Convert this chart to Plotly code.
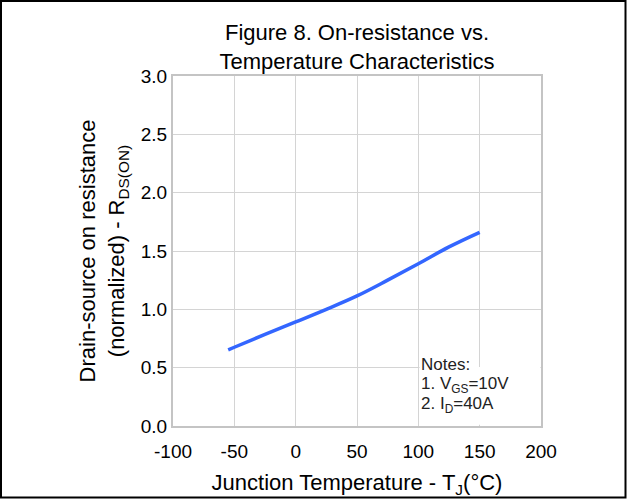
import plotly.graph_objects as go

# Data
temperature_c = [-55, -50, -25, 0, 25, 50, 75, 100, 125, 150]
rds_on_norm = [0.653, 0.675, 0.785, 0.892, 1.0, 1.115, 1.25, 1.39, 1.535, 1.66]

x_ticks = [-100, -50, 0, 50, 100, 150, 200]
y_ticks = [0.0, 0.5, 1.0, 1.5, 2.0, 2.5, 3.0]

title_text = "Figure 8. On-resistance vs.<br>Temperature Characteristics"
x_title = "Junction Temperature - T<sub>J</sub>(°C)"
y_title = "Drain-source on resistance<br>(normalized) - R<sub>DS(ON)</sub>"
notes_lines = ["Notes:", "1. V<sub>GS</sub>=10V", "2. I<sub>D</sub>=40A"]
notes_y = [0.523, 0.351, 0.18]

FONT = "Arial, 'Liberation Sans', sans-serif"
W, H = 627, 500
L, R, T, B = 173, 86, 76, 74
pw, ph = W - L - R, H - T - B

fig = go.Figure()
fig.add_trace(go.Scatter(
    x=temperature_c, y=rds_on_norm, mode="lines",
    line=dict(color="#3366ff", width=3.5, shape="spline", smoothing=1.0),
    hoverinfo="skip", showlegend=False,
))

# white box behind notes (above grid, below trace)
fig.add_shape(type="rect", xref="x", yref="y", x0=101, x1=199.5, y0=0.01, y1=0.505,
              fillcolor="white", line=dict(width=0), layer="between")

for txt, yy in zip(notes_lines, notes_y):
    fig.add_annotation(
        x=100.5, y=yy, xref="x", yref="y", xanchor="left", yanchor="middle",
        text=txt, showarrow=False, align="left",
        font=dict(family=FONT, size=17, color="#222222"),
    )

# outer black frame
fig.add_shape(type="rect", xref="paper", yref="paper",
              x0=(1 - L) / pw, x1=(W - 1.5 - L) / pw,
              y0=-(B - 2.5) / ph, y1=1 + (T - 1) / ph,
              line=dict(color="black", width=2), fillcolor="rgba(0,0,0,0)")

fig.update_layout(
    width=W, height=H,
    margin=dict(l=L, r=R, t=T, b=B, autoexpand=False),
    paper_bgcolor="white", plot_bgcolor="white",
    font=dict(family=FONT, color="black"),
    title=dict(text=title_text, x=(357 - L) / pw, xref="paper", xanchor="center",
               yref="container", y=1 - 40 / H, yanchor="middle", automargin=False,
               font=dict(family=FONT, size=22, color="black")),
    xaxis=dict(range=[-100, 200], tickvals=x_ticks, ticktext=[str(v) for v in x_ticks],
               automargin=False,
               showgrid=True, gridcolor="#d4d4d4", gridwidth=1,
               showline=True, mirror=True, linecolor="#c4c4c4", linewidth=2,
               zeroline=False, ticks="", ticklabelstandoff=7,
               tickfont=dict(size=19, color="black"),
               title=dict(text=x_title, font=dict(size=22, color="black"), standoff=14)),
    yaxis=dict(range=[0, 3], tickvals=y_ticks, ticktext=[f"{v:.1f}" for v in y_ticks],
               automargin=False,
               showgrid=True, gridcolor="#d4d4d4", gridwidth=1,
               showline=True, mirror=True, linecolor="#c4c4c4", linewidth=2,
               zeroline=False, ticks="", tickfont=dict(size=19, color="black"),
               title=dict(text=y_title, font=dict(size=22, color="black"), standoff=10)),
)

fig.write_html("out.html", config={"displayModeBar": False},
               post_script="document.body.style.margin='0';")
